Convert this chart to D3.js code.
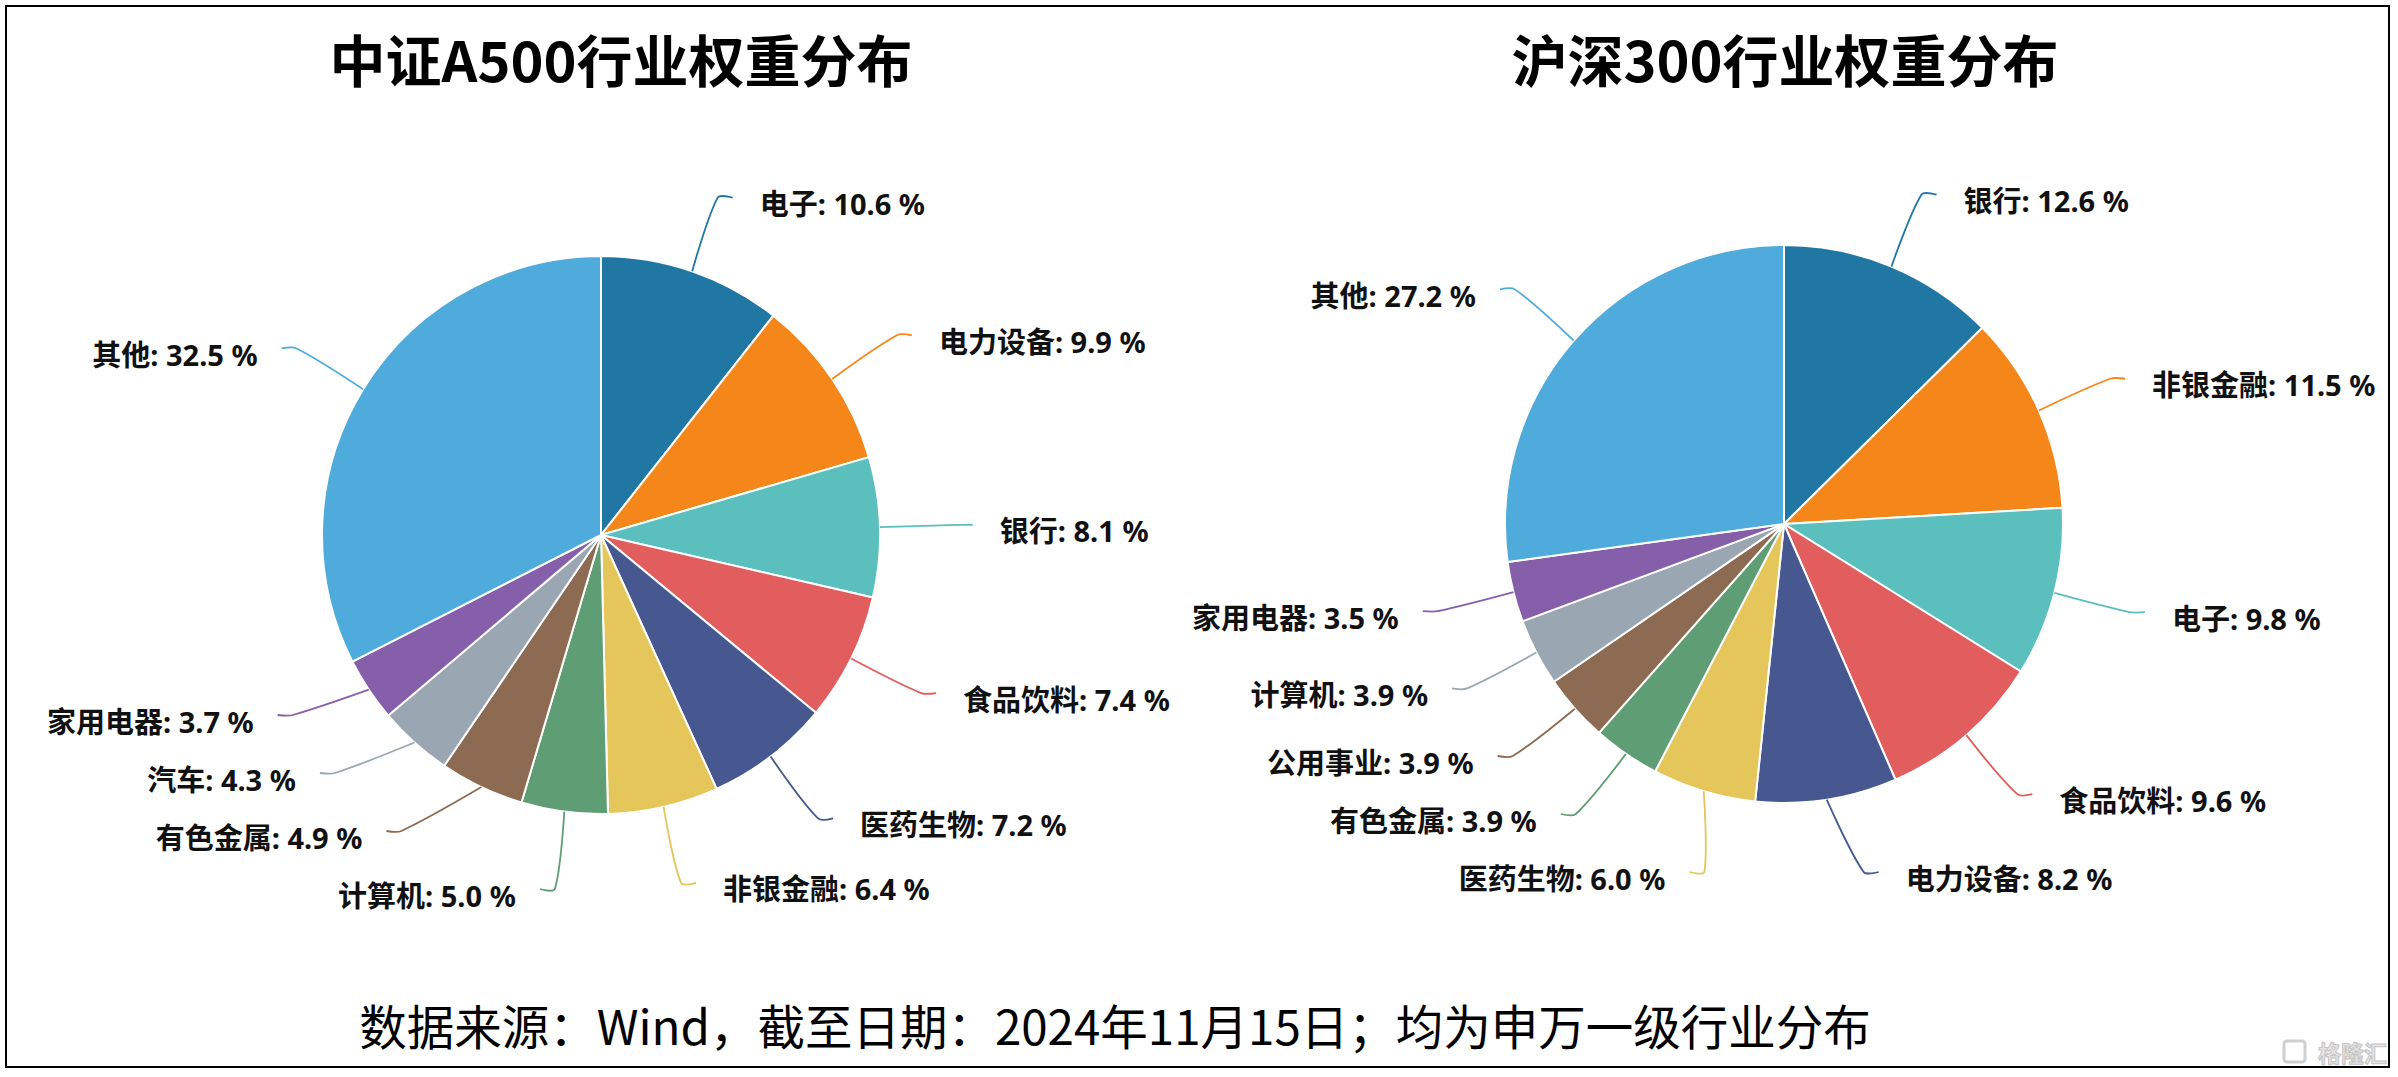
<!DOCTYPE html>
<html><head><meta charset="utf-8">
<script src="https://cdn.jsdelivr.net/npm/d3@7"></script>
<style>body{margin:0;background:#fff} svg{display:block}</style>
</head><body>
<svg id="c" width="2398" height="1077"></svg>
<script>
// ---- data ----
const sliceColors = ["#2177a4","#f5861a","#5bbfbe","#e15d5e","#47578f","#e4c65a","#5f9e74","#8c6b52","#9aa7b2","#865fab","#4fabdc"];
const a500Categories = ["电子","电力设备","银行","食品饮料","医药生物","非银金融","计算机","有色金属","汽车","家用电器","其他"];
const a500Values = [10.6, 9.9, 8.1, 7.4, 7.2, 6.4, 5.0, 4.9, 4.3, 3.7, 32.5];
const hs300Categories = ["银行","非银金融","电子","食品饮料","电力设备","医药生物","有色金属","公用事业","计算机","家用电器","其他"];
const hs300Values = [12.6, 11.5, 9.8, 9.6, 8.2, 6.0, 3.9, 3.9, 3.9, 3.5, 27.2];
const chartTitles = ["中证A500行业权重分布", "沪深300行业权重分布"];
const footnoteText = "数据来源：Wind，截至日期：2024年11月15日；均为申万一级行业分布";
const watermarkText = "格隆汇";

// ---- layout ----
const W = 2398, H = 1077;
const svg = d3.select("#c");
const FONT = "'Noto Sans CJK SC','Noto Sans',sans-serif";
const LABEL_FONT = "'Noto Sans','Noto Sans CJK SC',sans-serif";

svg.append("rect").attr("x", 0).attr("y", 0).attr("width", W).attr("height", H).attr("fill", "#fff");

const charts = [
  {cats: a500Categories, vals: a500Values, title: chartTitles[0], cx: 601, cy: 535, titleX: 621, maxLabelY: 889},
  {cats: hs300Categories, vals: hs300Values, title: chartTitles[1], cx: 1784, cy: 524, titleX: 1785, maxLabelY: 872}
];
const R = 279, LEN1 = 78, LEN2 = 15, GAP = 58, SMOOTH = 0.3;
const TEXT_GAP = {"1": 27, "-1": 24};

const pie = d3.pie().sort(null).value(d => d.value).startAngle(0).endAngle(2 * Math.PI);
const arc = d3.arc().innerRadius(0).outerRadius(R);

function smoothPath(p) {
  const [p0, p1, p2] = p;
  const v = [(p2[0] - p0[0]) * SMOOTH, (p2[1] - p0[1]) * SMOOTH];
  let d0 = Math.hypot(p1[0] - p0[0], p1[1] - p0[1]);
  let d1 = Math.hypot(p2[0] - p1[0], p2[1] - p1[1]);
  const s = d0 + d1 || 1; d0 /= s; d1 /= s;
  const c0 = [p1[0] - v[0] * d0, p1[1] - v[1] * d0];
  const c1 = [p1[0] + v[0] * d1, p1[1] + v[1] * d1];
  const path = d3.path();
  path.moveTo(p0[0], p0[1]);
  path.bezierCurveTo(p0[0], p0[1], c0[0], c0[1], p1[0], p1[1]);
  path.bezierCurveTo(c1[0], c1[1], p2[0], p2[1], p2[0], p2[1]);
  return path.toString();
}

charts.forEach(ch => {
  const data = ch.cats.map((c, i) => ({name: c, value: ch.vals[i], color: sliceColors[i]}));
  const arcs = pie(data);
  const g = svg.append("g");

  g.append("text").attr("x", ch.titleX).attr("y", 57)
    .attr("text-anchor", "middle").attr("dominant-baseline", "central")
    .attr("font-family", FONT).attr("font-weight", 700).attr("font-size", 56)
    .attr("fill", "#000").text(ch.title);

  g.append("g").attr("transform", `translate(${ch.cx},${ch.cy})`)
    .selectAll("path").data(arcs).join("path")
    .attr("d", arc).attr("fill", d => d.data.color)
    .attr("stroke", "#fff").attr("stroke-width", 2).attr("stroke-linejoin", "round");

  // label layout (outer labels, vertical overlap avoidance per side)
  const items = arcs.map(a => {
    const mid = (a.startAngle + a.endAngle) / 2;
    const dx = Math.sin(mid), dy = -Math.cos(mid);
    const y = ch.cy + (R + LEN1) * dy;
    return {a, side: dx < 0 ? -1 : 1, x0: ch.cx + R * dx, y0: ch.cy + R * dy,
            y, y_orig: y, x1_orig: ch.cx + (R + LEN1) * dx};
  });
  [-1, 1].forEach(side => {
    const list = items.filter(it => it.side === side).sort((p, q) => p.y - q.y);
    for (let i = 1; i < list.length; i++) list[i].y = Math.max(list[i].y, list[i - 1].y + GAP);
    const n = list.length;
    if (n && list[n - 1].y > ch.maxLabelY) {
      list[n - 1].y = ch.maxLabelY;
      for (let i = n - 2; i >= 0; i--) list[i].y = Math.min(list[i].y, list[i + 1].y - GAP);
    }
  });
  items.forEach(it => {
    if (Math.abs(it.y - it.y_orig) < 0.01) {
      it.x1 = it.x1_orig;
    } else {
      const RR = R + LEN1, ddy = it.y - ch.cy;
      it.x1 = ch.cx + it.side * Math.sqrt(Math.max(RR * RR - ddy * ddy, 0));
    }
    it.y1 = it.y;
    it.x2 = it.x1 + it.side * LEN2;
  });

  g.append("g").selectAll("path").data(items).join("path")
    .attr("d", it => smoothPath([[it.x0, it.y0], [it.x1, it.y1], [it.x2, it.y1]]))
    .attr("fill", "none").attr("stroke", it => it.a.data.color).attr("stroke-width", 1.8);

  g.append("g").selectAll("text").data(items).join("text")
    .attr("x", it => it.x2 + it.side * TEXT_GAP[it.side]).attr("y", it => it.y1 + 6)
    .attr("text-anchor", it => it.side < 0 ? "end" : "start")
    .attr("dominant-baseline", "central")
    .attr("font-family", LABEL_FONT).attr("font-weight", 700).attr("font-size", 29)
    .attr("fill", "#111")
    .text(it => `${it.a.data.name}: ${it.a.data.value.toFixed(1)} %`);
});

svg.append("text").attr("x", 1115).attr("y", 1024)
  .attr("text-anchor", "middle").attr("dominant-baseline", "central")
  .attr("font-family", FONT).attr("font-weight", 400).attr("font-size", 47.5)
  .attr("fill", "#000").text(footnoteText);

// watermark
const wm = svg.append("g");
wm.append("rect").attr("x", 2284).attr("y", 1041).attr("width", 21).attr("height", 21).attr("rx", 3)
  .attr("fill", "none").attr("stroke", "#cfcfcf").attr("stroke-width", 3);
wm.append("text").attr("x", 2318).attr("y", 1052).attr("dominant-baseline", "central")
  .attr("font-family", FONT).attr("font-size", 23).attr("font-weight", 700)
  .attr("fill", "#e6e6e6").attr("stroke", "#c4c4c4").attr("stroke-width", 1).text(watermarkText);

// frame
svg.append("rect").attr("x", 6).attr("y", 6).attr("width", 2383).attr("height", 1061)
  .attr("fill", "none").attr("stroke", "#000").attr("stroke-width", 2);
</script>
</body></html>
